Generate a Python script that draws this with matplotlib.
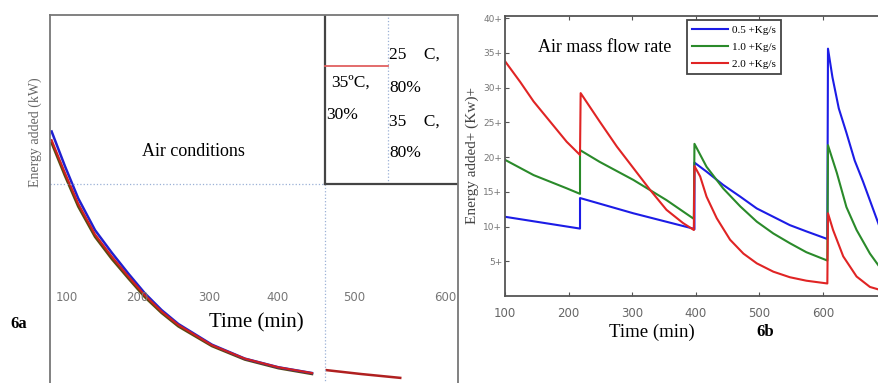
import numpy as np
import matplotlib.pyplot as plt
from matplotlib.lines import Line2D

plt.rcParams['font.family'] = ['Liberation Serif', 'DejaVu Serif']

# ---- panel 6a: air conditions (three nearly overlapping curves) ----
a_time_1 = [78, 97, 116, 140, 164, 188, 211, 235, 259, 307, 354, 402, 450]
a_red_1 = [27.0, 23.6, 20.4, 17.2, 14.9, 12.8, 10.9, 9.2, 7.8, 5.7, 4.3, 3.4, 2.8]
a_blue_1 = [27.9, 24.3, 20.95, 17.65, 15.3, 13.1, 11.1, 9.35, 7.9, 5.75, 4.3, 3.4, 2.8]
a_dark_1 = [26.7, 23.3, 20.1, 16.95, 14.65, 12.6, 10.7, 9.05, 7.65, 5.6, 4.2, 3.3, 2.7]
a_time_2 = [471, 520, 576]
a_red_2 = [3.1, 2.7, 2.3]
a_tick_pos = [100, 200, 303, 400, 510, 640]
a_tick_lab = ["100", "200", "300", "400", "500", "600"]

# ---- panel 6b: air mass flow rate ----
b_blue_t = [100, 218, 218, 302, 396, 398, 398, 417, 443, 470, 496, 522, 548, 574, 607,
            608, 615, 625, 637, 650, 663, 675, 689]
b_blue = [11.4, 9.7, 14.1, 11.9, 9.7, 9.6, 19.2, 17.9, 16.0, 14.3, 12.6, 11.4, 10.2, 9.3, 8.2,
          35.6, 31.5, 27.0, 23.5, 19.5, 16.5, 13.5, 10.0]
b_green_t = [100, 145, 197, 218, 218, 249, 302, 354, 397, 398, 417, 443, 470, 496, 522, 548, 574, 607,
             608, 622, 637, 653, 674, 689]
b_green = [19.6, 17.4, 15.5, 14.7, 21.0, 19.3, 16.7, 13.8, 11.1, 21.9, 18.6, 15.5, 12.9, 10.7, 9.0, 7.6, 6.3, 5.1,
           21.7, 17.7, 12.8, 9.5, 6.1, 4.2]
b_red_t = [100, 124, 145, 171, 197, 218, 219, 249, 276, 302, 328, 354, 380, 397, 398,
           407, 417, 433, 454, 475, 496, 522, 548, 574, 607,
           608, 616, 632, 653, 674, 689]
b_red = [33.8, 30.8, 28.0, 25.1, 22.2, 20.3, 29.2, 25.1, 21.5, 18.4, 15.3, 12.4, 10.5, 9.5, 18.7,
         17.2, 14.3, 11.2, 8.1, 6.1, 4.7, 3.5, 2.7, 2.2, 1.8,
         11.9, 9.5, 5.7, 2.8, 1.3, 0.9]
b_yticks = [5, 10, 15, 20, 25, 30, 35, 40]
b_xticks = [100, 200, 300, 400, 500, 600]

fig = plt.figure(figsize=(8.79, 3.83), dpi=100)

# ================= 6a =================
ax1 = fig.add_axes([0.0569, -0.0444, 0.4642, 1.0052])
ax1.set_xlim(75.7, 658.6)
ax1.set_ylim(0, 40)
ax1.set_xticks([])
ax1.set_yticks([])
for s in ax1.spines.values():
    s.set_color('#777777')
    s.set_linewidth(1.3)

ax1.plot(a_time_1, a_dark_1, color='#5a4a10', lw=1.8)
ax1.plot(a_time_1, a_blue_1, color='#2020d0', lw=1.8)
ax1.plot(a_time_1, a_red_1, color='#d02020', lw=1.5)
ax1.plot(a_time_2, a_red_2, color='#b02020', lw=1.8)

box_x, box_y = 468.6, 22.4
ax1.plot([75.7, box_x], [box_y, box_y], ls=':', color='#9ab0d6', lw=0.9)
ax1.plot([box_x, box_x], [0, box_y], ls=':', color='#9ab0d6', lw=0.9)
ax1.plot([558.6, 558.6], [box_y, 40], ls=':', color='#9ab0d6', lw=0.9)
ax1.plot([box_x, box_x], [box_y, 40], color='#444444', lw=1.6)
ax1.plot([box_x, 658.6], [box_y, box_y], color='#444444', lw=1.6)
ax1.plot([box_x, 558.6], [34.7, 34.7], color='#e06060', lw=1.3)

ax1.text(478, 33.8, "35ºC,", fontsize=12.5, va='top')
ax1.text(470, 30.4, "30%", fontsize=12.5, va='top')
ax1.text(560, 35.0, "25    C,", fontsize=12.5, va='bottom')
ax1.text(560, 31.6, "80%", fontsize=12.5, va='bottom')
ax1.text(560, 28.1, "35    C,", fontsize=12.5, va='bottom')
ax1.text(560, 24.8, "80%", fontsize=12.5, va='bottom')

for p, lab in zip(a_tick_pos, a_tick_lab):
    ax1.text(p, 10.7, lab, fontsize=8.5, color='#777777', ha='center', va='center',
             family='DejaVu Sans')

fig.text(0.2195, 0.6057, "Air conditions", fontsize=13, ha='center', va='center')
fig.text(0.2912, 0.157, "Time (min)", fontsize=15, ha='center', va='center')
fig.text(0.0216, 0.154, "6a", fontsize=12, fontweight='bold', ha='center', va='center')
fig.text(0.040, 0.655, "Energy added (kW)", fontsize=10, color='#666666', rotation=90,
         ha='center', va='center')

# ================= 6b =================
ax2 = fig.add_axes([0.5745, 0.2272, 0.434, 0.731])
ax2.set_xlim(100, 700)
ax2.set_ylim(0, 40.3)
ax2.plot(b_blue_t, b_blue, color='#1c1ce6', lw=1.5)
ax2.plot(b_green_t, b_green, color='#2a8a2a', lw=1.5)
ax2.plot(b_red_t, b_red, color='#e02424', lw=1.5)

ax2.set_xticks(b_xticks)
ax2.set_xticklabels([str(v) for v in b_xticks], family='DejaVu Sans', fontsize=8.5, color='#666666')
ax2.set_yticks(b_yticks)
ax2.set_yticklabels([f"{v}+" for v in b_yticks], family='DejaVu Sans', fontsize=6.5, color='#777777')
ax2.tick_params(axis='both', direction='in', top=True, length=3, width=0.8, color='#555555')
ax2.tick_params(axis='x', pad=8)
ax2.tick_params(axis='y', pad=2)
for s in ax2.spines.values():
    s.set_color('#555555')
    s.set_linewidth(1.3)

ax2.text(0.086, 0.888, "Air mass flow rate", transform=ax2.transAxes, fontsize=13,
         ha='left', va='center')
handles = [Line2D([], [], color='#1c1ce6', lw=1.5),
           Line2D([], [], color='#2a8a2a', lw=1.5),
           Line2D([], [], color='#e02424', lw=1.5)]
leg = ax2.legend(handles, ["0.5 +Kg/s", "1.0 +Kg/s", "2.0 +Kg/s"], loc='upper left',
                 bbox_to_anchor=(0.477, 0.986), fontsize=8, fancybox=False, framealpha=1,
                 edgecolor='#444444', handlelength=3.2, handletextpad=0.4, labelspacing=0.68,
                 borderpad=0.45, borderaxespad=0)
leg.get_frame().set_linewidth(1.3)

fig.text(0.5370, 0.593, "Energy added+ (Kw)+", fontsize=11, color='#444444', rotation=90,
         ha='center', va='center')
fig.text(0.7414, 0.133, "Time (min)", fontsize=13.5, ha='center', va='center')
fig.text(0.8703, 0.133, "6b", fontsize=12, fontweight='bold', ha='center', va='center')

plt.savefig("out.png", dpi=100)
